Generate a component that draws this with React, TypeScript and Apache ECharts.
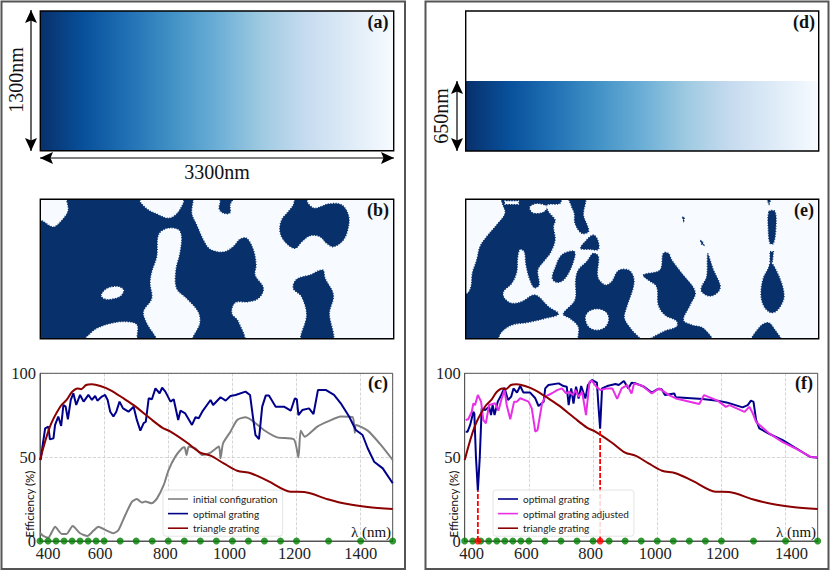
import React, { useEffect, useRef } from "react";
import * as echarts from "echarts";

type Pt = [number, number];

const bluesStops = ["#08306b", "#08519c", "#2171b5", "#4292c6", "#6baed6", "#9ecae1", "#c6dbef", "#deebf7", "#f7fbff"];
const darkCell = "#08306b";
const lightCell = "#f7fbff";

const panelLabels = ["(a)", "(b)", "(c)", "(d)", "(e)", "(f)"];

const xTicksLeft: Record<number, number> = { 400: 8, 600: -4, 800: -3, 1000: -3, 1200: -2, 1400: 0 };
const xTicksRight: Record<number, number> = { 400: 7, 600: -2.5, 800: -2.5, 1000: -2, 1200: 1, 1400: 6 };

const sampledWavelengths = [400, 425, 450, 475, 500, 525, 550, 575, 600, 650, 700, 750, 800, 850, 900, 950, 1000, 1050, 1100, 1150, 1200, 1300, 1400, 1500];
const resonances: Pt[] = [[441, 30], [822, 67]];

const initialConfig: Pt[] = [[400, 5], [410, 3], [426, 2], [436, 5], [447, 8.5], [468, 4.2], [483, 4.2], [502, 8.9], [525, 4.6], [548, 3], [567, 6.2], [582, 8.5], [608, 6.2], [629, 4.6], [645, 6.6], [666, 15.5], [687, 23.5], [702, 25], [718, 22.9], [728, 23.5], [749, 22.5], [765, 25.4], [786, 33.4], [801, 42.3], [822, 50.3], [843, 55.3], [851, 55.9], [857, 51.3], [864, 56.3], [885, 55.3], [906, 51.3], [932, 52.7], [958, 56.3], [963, 49.3], [971, 58.3], [994, 65.2], [1015, 72.2], [1041, 73.8], [1062, 71.8], [1098, 66.2], [1140, 61.8], [1192, 60.6], [1206, 49.9], [1213, 65.8], [1226, 62.2], [1265, 68.2], [1302, 71.6], [1338, 74.2], [1375, 73.8], [1382, 64.6], [1385, 69.2], [1422, 65.8], [1463, 57.3], [1500, 48.3]];

const optimalLeft: Pt[] = [[402, 48.3], [407, 55.3], [416, 67.2], [426, 68.2], [431, 60.6], [442, 61.2], [447, 69.2], [457, 74.2], [466, 68.6], [473, 81.1], [480, 80.1], [487, 72.6], [496, 84.1], [504, 88.1], [513, 81.1], [525, 87.1], [536, 83.1], [551, 87.1], [562, 84.1], [572, 86.5], [579, 83.7], [593, 86.1], [603, 87.1], [611, 84.1], [619, 77.1], [629, 74.2], [638, 77.1], [648, 83.1], [659, 79.1], [676, 77.1], [692, 80.1], [702, 72.2], [713, 65.8], [723, 70.2], [730, 71.2], [739, 85.1], [749, 84.5], [760, 91], [773, 88.1], [781, 91.4], [791, 89.1], [807, 83.1], [817, 84.5], [831, 72.2], [838, 77.7], [853, 76.1], [874, 69.2], [885, 73.8], [895, 73.2], [906, 77.1], [932, 84.1], [940, 81.1], [963, 85.7], [979, 83.7], [994, 86.5], [1010, 87.1], [1041, 89.1], [1055, 87.1], [1064, 74.2], [1072, 63.2], [1083, 60.8], [1093, 80.1], [1104, 86.7], [1114, 86.7], [1135, 80.1], [1161, 80.1], [1182, 77.7], [1195, 85.1], [1201, 84.5], [1206, 75.1], [1218, 78.1], [1239, 79.1], [1253, 75.7], [1267, 90.1], [1291, 90.1], [1317, 87.1], [1338, 82.1], [1364, 74.2], [1385, 66.2], [1406, 63.2], [1422, 55.3], [1442, 47.3], [1469, 43.3], [1500, 34.4]];

const triangleGrating: Pt[] = [[400, 48.3], [431, 68.2], [463, 80.1], [483, 84.1], [499, 88.7], [517, 91], [528, 90.5], [544, 93], [562, 93.4], [588, 92.4], [619, 90], [661, 85], [692, 81], [744, 73], [781, 67.6], [807, 65.2], [859, 58.6], [900, 52.7], [932, 50.9], [973, 46.3], [1015, 41.9], [1057, 40.4], [1109, 36], [1182, 29.4], [1224, 29.2], [1297, 24.9], [1359, 22], [1422, 20.3], [1500, 19.1]];

const optimalRight: Pt[] = [[403, 65.2], [409, 65.2], [417, 69.2], [427, 77.1], [430, 76], [435, 50.3], [441, 30], [447, 50], [453, 79.1], [464, 78.1], [476, 80.1], [482, 75.1], [487, 81.1], [493, 75.1], [503, 83.1], [514, 87.1], [524, 91.4], [535, 84.1], [545, 86.1], [552, 91], [563, 88.5], [573, 92.4], [583, 88.5], [604, 88.5], [620, 85.1], [630, 80.5], [646, 83.1], [651, 91], [661, 93], [693, 94], [708, 92.4], [718, 92], [724, 81], [732, 91], [739, 82], [747, 92], [755, 85], [763, 92.4], [776, 85], [784, 93], [796, 96], [812, 94.4], [817, 80], [822, 67], [828, 91], [844, 92.4], [870, 93.6], [880, 93], [896, 95.4], [910, 91], [920, 94.4], [933, 94], [959, 92], [983, 88.5], [1000, 90.5], [1014, 90.5], [1024, 87], [1053, 88], [1058, 85.7], [1141, 84.7], [1188, 83.7], [1219, 82.5], [1266, 79.7], [1282, 81], [1292, 83.7], [1300, 83], [1308, 72.2], [1318, 67.2], [1350, 63.8], [1391, 60.2], [1433, 55.3], [1475, 50.3], [1500, 49.7]];

const optimalAdjusted: Pt[] = [[403, 72.2], [411, 72.6], [422, 77.1], [427, 82.1], [432, 81], [441, 87.1], [451, 83.1], [458, 72.2], [466, 70.2], [476, 81.1], [495, 82.1], [505, 77.7], [514, 84.1], [524, 90], [531, 81], [542, 72.6], [554, 83.1], [563, 83.1], [573, 85.1], [599, 83.1], [609, 79.1], [620, 65.2], [627, 66.2], [641, 82.1], [651, 86.1], [672, 88.1], [688, 90], [703, 91], [716, 88], [726, 89], [737, 87], [745, 90], [755, 86], [766, 89], [778, 75.1], [789, 95], [796, 95.6], [812, 91.6], [823, 90], [844, 91], [860, 91], [875, 84.7], [889, 91], [906, 93], [920, 88], [928, 94], [954, 92.4], [983, 88], [1006, 91], [1037, 87], [1058, 85], [1131, 81.7], [1146, 87], [1188, 83.7], [1214, 80], [1225, 81], [1272, 77], [1287, 80], [1298, 76], [1308, 71], [1350, 64], [1391, 59], [1433, 55], [1480, 50], [1500, 50]];

// Traced outlines of the topology panels, in traced-pixel units of each panel's own axis.
const shapesB: { fill: string; pts: number[][] }[] = [
  { fill: darkCell, pts: [[205, 20], [420, 20], [420, 35], [445, 60], [470, 72], [505, 85], [530, 72], [550, 40], [555, 20], [578, 20], [575, 70], [590, 105], [610, 150], [630, 178], [670, 186], [700, 170], [720, 148], [740, 145], [760, 180], [768, 225], [765, 255], [790, 295], [775, 325], [745, 335], [705, 338], [695, 370], [715, 395], [730, 455], [580, 455], [600, 400], [595, 365], [560, 325], [530, 295], [528, 240], [540, 190], [545, 140], [535, 118], [500, 115], [475, 135], [470, 200], [455, 245], [450, 280], [455, 325], [430, 365], [440, 400], [470, 455], [415, 455], [412, 405], [385, 395], [340, 398], [290, 415], [235, 455], [105, 462], [105, 92], [125, 92], [150, 108], [165, 110], [195, 80], [205, 60]] },
  { fill: lightCell, pts: [[305, 315], [320, 297], [350, 290], [370, 300], [360, 318], [330, 327], [312, 325]] },
  { fill: darkCell, pts: [[665, 20], [700, 20], [690, 45], [690, 68], [672, 70], [658, 58], [660, 40]] },
  { fill: darkCell, pts: [[888, 20], [915, 20], [925, 42], [945, 55], [985, 42], [1025, 45], [1045, 75], [1045, 110], [1030, 150], [1000, 170], [980, 160], [960, 140], [930, 137], [905, 155], [885, 175], [855, 155], [840, 125], [845, 90], [865, 65], [880, 45]] },
  { fill: darkCell, pts: [[905, 455], [920, 375], [905, 320], [880, 295], [890, 268], [930, 255], [968, 240], [975, 265], [1000, 315], [988, 370], [997, 455]] },
];

const shapesE: { fill: string; pts: number[][] }[] = [
  { fill: darkCell, pts: [[258, 20], [262, 40], [270, 70], [245, 105], [215, 140], [195, 170], [185, 210], [172, 250], [168, 290], [155, 312], [135, 312], [135, 462], [240, 455], [260, 425], [290, 405], [340, 397], [390, 385], [430, 372], [400, 350], [360, 315], [320, 335], [290, 340], [268, 325], [265, 305], [290, 280], [305, 245], [308, 200], [315, 178], [328, 185], [333, 225], [345, 270], [358, 293], [372, 285], [368, 240], [385, 215], [405, 190], [420, 150], [415, 110], [420, 90], [400, 65], [395, 45], [435, 40], [435, 20]] },
  { fill: lightCell, pts: [[345, 52], [365, 42], [395, 50], [385, 65], [355, 68]] },
  { fill: lightCell, pts: [[270, 34], [310, 34], [310, 42], [270, 42]] },
  { fill: darkCell, pts: [[462, 20], [510, 20], [505, 75], [518, 110], [520, 125], [500, 130], [480, 100], [478, 70], [470, 50]] },
  { fill: darkCell, pts: [[497, 175], [515, 150], [535, 135], [548, 150], [550, 178], [525, 178]] },
  { fill: darkCell, pts: [[412, 265], [420, 235], [440, 195], [475, 183], [480, 195], [465, 240], [445, 270], [425, 277]] },
  { fill: darkCell, pts: [[445, 372], [480, 330], [482, 270], [490, 240], [515, 215], [535, 190], [550, 200], [548, 260], [570, 285], [590, 275], [610, 242], [640, 240], [655, 260], [655, 290], [635, 350], [628, 385], [650, 420], [678, 455], [495, 455], [490, 410], [465, 385]] },
  { fill: lightCell, pts: [[512, 385], [520, 367], [546, 358], [572, 367], [580, 388], [570, 410], [546, 419], [522, 410]] },
  { fill: darkCell, pts: [[685, 255], [735, 240], [745, 190], [760, 190], [770, 210], [800, 250], [840, 305], [825, 345], [805, 390], [830, 405], [865, 415], [890, 455], [700, 455], [745, 425], [785, 410], [785, 393], [750, 375], [730, 345], [725, 290], [700, 270]] },
  { fill: darkCell, pts: [[878, 192], [885, 210], [895, 240], [915, 285], [910, 305], [885, 318], [860, 305], [860, 290], [875, 260]] },
  { fill: darkCell, pts: [[802, 82], [808, 82], [806, 92]] },
  { fill: darkCell, pts: [[856, 151], [862, 155], [866, 165], [860, 163]] },
  { fill: darkCell, pts: [[1052, 20], [1070, 20], [1062, 42]] },
  { fill: darkCell, pts: [[1062, 65], [1080, 65], [1082, 120], [1075, 160], [1065, 160], [1060, 120]] },
  { fill: darkCell, pts: [[1065, 185], [1075, 185], [1072, 215], [1065, 215]] },
  { fill: darkCell, pts: [[1068, 218], [1090, 255], [1105, 300], [1105, 330], [1085, 362], [1065, 367], [1045, 345], [1038, 310], [1045, 265], [1060, 235]] },
  { fill: darkCell, pts: [[1010, 455], [1035, 410], [1060, 398], [1080, 420], [1098, 455]] },
];

const SERIF = '"Liberation Serif", "DejaVu Serif", serif';
const SANS = 'Lato, "Open Sans", sans-serif';
const NAVY = "#00008b";
const MAROON = "#8b0000";
const GRAY = "#808080";
const MAGENTA = "#e82fe8";
const GREEN = "#008000";
const RED = "#ff0000";

const L = { a: { left: 40.3, top: 11, width: 353.4, height: 139.7 }, b: { left: 40.3, top: 199.3, width: 353.4, height: 139.4 }, c: { left: 40, top: 373.3, width: 352.7, height: 167.7 }, d: { left: 465.7, top: 11, width: 353, height: 140 }, e: { left: 465.7, top: 199.3, width: 353, height: 139.4 }, f: { left: 464.7, top: 373.3, width: 353, height: 167.7 } };

function arrow(x1: number, y1: number, x2: number, y2: number) {
  const len = 13;
  const half = 6;
  const items: any[] = [{ type: "line", z: 20, shape: { x1, y1, x2, y2 }, style: { stroke: "#000", lineWidth: 1.2 } }];
  const head = (x: number, y: number, dx: number, dy: number) => ({
    type: "polygon",
    z: 20,
    shape: { points: [[x, y], [x - dx * len - dy * half, y - dy * len - dx * half], [x - dx * (len - 2.5), y - dy * (len - 2.5)], [x - dx * len + dy * half, y - dy * len + dx * half]] },
    style: { fill: "#000" },
  });
  const n = Math.hypot(x2 - x1, y2 - y1);
  const ux = (x2 - x1) / n;
  const uy = (y2 - y1) / n;
  items.push(head(x2, y2, ux, uy), head(x1, y1, -ux, -uy));
  return items;
}

function frame(r: { left: number; top: number; width: number; height: number }, stroke = "#000", lineWidth = 1.4, z = 15) {
  return { type: "rect", z, shape: { x: r.left, y: r.top, width: r.width, height: r.height }, style: { fill: "transparent", stroke, lineWidth } };
}

function txt(text: string, x: number, y: number, font: string, extra: any = {}) {
  const { rotation, ...rest } = extra;
  return { type: "text", z: 25, x, y, rotation: rotation ?? 0, style: { text, font, fill: "#111", textAlign: "center", textVerticalAlign: "middle", ...rest } };
}

function gradientSeries(xi: number, top: number) {
  return {
    type: "custom",
    xAxisIndex: xi,
    yAxisIndex: xi,
    silent: true,
    clip: true,
    data: [[0, top, 3300, 0]],
    renderItem: (_p: any, api: any) => {
      const a = api.coord([api.value(0), api.value(1)]);
      const b = api.coord([api.value(2), api.value(3)]);
      return {
        type: "rect",
        shape: { x: a[0], y: a[1], width: b[0] - a[0], height: b[1] - a[1] },
        style: { fill: new echarts.graphic.LinearGradient(0, 0, 1, 0, bluesStops.map((color, i) => ({ offset: i / (bluesStops.length - 1), color }))) },
      };
    },
  };
}

function shapeSeries(xi: number, shapes: { fill: string; pts: number[][] }[]) {
  return {
    type: "custom",
    xAxisIndex: xi,
    yAxisIndex: xi,
    silent: true,
    clip: true,
    data: shapes.map((_, i) => [i]),
    renderItem: (_p: any, api: any) => {
      const s = shapes[api.value(0)];
      const tiny = s.pts.length < 5;
      return {
        type: "polygon",
        shape: { points: s.pts.map((p) => api.coord(p)), smooth: tiny ? 0 : 0.35 },
        style: { fill: s.fill, stroke: s.fill, lineWidth: 1.4, lineDash: [1, 1.6] },
      };
    },
  };
}

function lineSeries(name: string, xi: number, data: Pt[], color: string, smooth = 0, z = 3) {
  return { type: "line", name, xAxisIndex: xi, yAxisIndex: xi, data, showSymbol: false, smooth, z, lineStyle: { color, width: 2 }, itemStyle: { color } };
}

function dots(xi: number, wl: number[], color: string, z = 6) {
  return { type: "scatter", xAxisIndex: xi, yAxisIndex: xi, data: wl.map((w) => [w, 0]), symbolSize: 7, clip: false, z, itemStyle: { color } };
}

function dropLine(xi: number, p: Pt) {
  return { type: "line", xAxisIndex: xi, yAxisIndex: xi, data: [[p[0], 0], p], showSymbol: false, z: 5, lineStyle: { color: RED, width: 1.8, type: [5, 2] } };
}

function plotX(grid: number, shifts: Record<number, number>) {
  const rich: any = {};
  Object.keys(shifts).forEach((k) => {
    const d = shifts[+k];
    rich["t" + k] = { fontFamily: SERIF, fontSize: 16.5, color: "#222", padding: [0, d < 0 ? -2 * d : 0, 0, d > 0 ? 2 * d : 0] };
  });
  return {
    gridIndex: grid,
    type: "value",
    min: 400,
    max: 1500,
    interval: 200,
    axisLine: { show: true, lineStyle: { color: "#555", width: 1 } },
    axisTick: { show: false },
    splitLine: { show: true, lineStyle: { color: "#ccc", type: "dashed", width: 0.8 } },
    axisLabel: { show: true, showMaxLabel: false, margin: 4, formatter: (v: number) => `{t${v}|${v}}`, rich },
  };
}

function plotY(grid: number) {
  return {
    gridIndex: grid,
    type: "value",
    min: 0,
    max: 100,
    interval: 50,
    axisLine: { show: true, lineStyle: { color: "#555", width: 1 } },
    axisTick: { show: false },
    splitLine: { show: true, lineStyle: { color: "#ccc", type: "dashed", width: 0.8 } },
    axisLabel: { margin: 4, fontFamily: SERIF, fontSize: 16.5, color: "#222" },
  };
}

const hidden = (grid: number, min: number, max: number, inverse = false) => ({ gridIndex: grid, type: "value", min, max, inverse, show: false });

function legend(names: string[], left: number) {
  return {
    data: names,
    left,
    top: 490,
    orient: "vertical",
    itemWidth: 20,
    itemHeight: 8,
    itemGap: 4.6,
    padding: [4, 5, 3, 5],
    selectedMode: false,
    backgroundColor: "rgba(255,255,255,0.85)",
    borderColor: "#ddd",
    borderWidth: 0.8,
    borderRadius: 3,
    textStyle: { fontFamily: SANS, fontSize: 10, color: "#222" },
    icon: "path://M0 4H20V5.6H0Z",
    z: 12,
  };
}

export default function App() {
  const ref = useRef<HTMLDivElement>(null);
  useEffect(() => {
    const chart = echarts.init(ref.current!, undefined, { renderer: "svg" });
    const gridOf = (r: any) => ({ ...r, containLabel: false });
    const lightGrid = (r: any) => ({ ...gridOf(r), show: true, borderWidth: 0, backgroundColor: lightCell });
    chart.setOption({
      animation: false,
      backgroundColor: "#fff",
      grid: [gridOf(L.a), lightGrid(L.b), gridOf(L.c), gridOf(L.d), lightGrid(L.e), gridOf(L.f)],
      xAxis: [hidden(0, 0, 3300), hidden(1, 121, 1181), plotX(2, xTicksLeft), hidden(3, 0, 3300), hidden(4, 152, 1211), plotX(5, xTicksRight)],
      yAxis: [hidden(0, 0, 1300), hidden(1, 28, 446, true), plotY(2), hidden(3, 0, 1300), hidden(4, 28, 446, true), plotY(5)],
      legend: [legend(["initial configuration", "optimal grating", "triangle grating"], 163), legend(["optimal grating", "optimal grating adjusted", "triangle grating"], 493)],
      series: [
        gradientSeries(0, 1300),
        shapeSeries(1, shapesB),
        lineSeries("initial configuration", 2, initialConfig, GRAY, 0.2),
        lineSeries("optimal grating", 2, optimalLeft, NAVY),
        lineSeries("triangle grating", 2, triangleGrating, MAROON, 0.3, 4),
        dots(2, sampledWavelengths, GREEN),
        gradientSeries(3, 650),
        shapeSeries(4, shapesE),
        lineSeries("optimal grating", 5, optimalRight, NAVY),
        lineSeries("optimal grating adjusted", 5, optimalAdjusted, MAGENTA, 0, 4),
        lineSeries("triangle grating", 5, triangleGrating, MAROON, 0.3, 4),
        dropLine(5, resonances[0]),
        dropLine(5, resonances[1]),
        dots(5, sampledWavelengths, GREEN),
        dots(5, resonances.map((r) => r[0]), RED, 7),
      ],
      graphic: [
        { type: "rect", z: -1, shape: { x: 1.5, y: 1.5, width: 403.5, height: 567.5 }, style: { fill: "transparent", stroke: "#555", lineWidth: 2 } },
        { type: "rect", z: -1, shape: { x: 425.5, y: 1.5, width: 403, height: 567.5 }, style: { fill: "transparent", stroke: "#555", lineWidth: 2 } },
        frame(L.a),
        frame(L.b),
        frame(L.d),
        frame(L.e),
        frame(L.c, "#555", 1, 2),
        frame(L.f, "#555", 1, 2),
        ...arrow(31, 10, 31, 151),
        ...arrow(40, 158, 394, 158),
        ...arrow(457, 81, 457, 151),
        txt("1300nm", 16, 80, `20px ${SERIF}`, { rotation: Math.PI / 2 }),
        txt("3300nm", 217, 172, `20px ${SERIF}`),
        txt("650nm", 441, 116, `20px ${SERIF}`, { rotation: Math.PI / 2 }),
        txt(panelLabels[0], 378, 22, `bold 18px ${SERIF}`),
        txt(panelLabels[1], 378, 210, `bold 18px ${SERIF}`),
        txt(panelLabels[2], 378, 383, `bold 18px ${SERIF}`),
        txt(panelLabels[3], 804, 22, `bold 18px ${SERIF}`),
        txt(panelLabels[4], 804, 210, `bold 18px ${SERIF}`),
        txt(panelLabels[5], 804, 383, `bold 18px ${SERIF}`),
        txt("Efficiency (%)", 29, 504, `11.5px ${SANS}`, { rotation: Math.PI / 2 }),
        txt("Efficiency (%)", 453, 504, `11.5px ${SANS}`, { rotation: Math.PI / 2 }),
        txt("λ (nm)", 371, 532, `15px ${SERIF}`),
        txt("λ (nm)", 796, 532, `15px ${SERIF}`),
      ],
    });
    return () => chart.dispose();
  }, []);
  return <div ref={ref} style={{ position: "absolute", left: 0, top: 0, width: 830, height: 571 }} />;
}
